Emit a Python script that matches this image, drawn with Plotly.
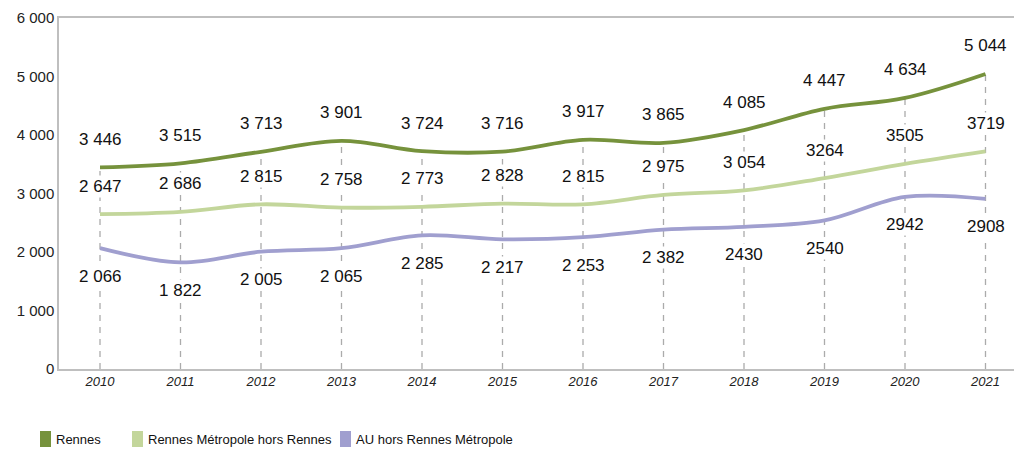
import plotly.graph_objects as go

years = [2010, 2011, 2012, 2013, 2014, 2015, 2016, 2017, 2018, 2019, 2020, 2021]
series_names = ["Rennes", "Rennes Métropole hors Rennes", "AU hors Rennes Métropole"]
rennes = [3446, 3515, 3713, 3901, 3724, 3716, 3917, 3865, 4085, 4447, 4634, 5044]
metropole = [2647, 2686, 2815, 2758, 2773, 2828, 2815, 2975, 3054, 3264, 3505, 3719]
au = [2066, 1822, 2005, 2065, 2285, 2217, 2253, 2382, 2430, 2540, 2942, 2908]
rennes_lbl = ["3 446", "3 515", "3 713", "3 901", "3 724", "3 716", "3 917", "3 865", "4 085", "4 447", "4 634", "5 044"]
metropole_lbl = ["2 647", "2 686", "2 815", "2 758", "2 773", "2 828", "2 815", "2 975", "3 054", "3264", "3505", "3719"]
au_lbl = ["2 066", "1 822", "2 005", "2 065", "2 285", "2 217", "2 253", "2 382", "2430", "2540", "2942", "2908"]
y_ticks = [0, 1000, 2000, 3000, 4000, 5000, 6000]
y_tick_text = ["0", "1 000", "2 000", "3 000", "4 000", "5 000", "6 000"]

colors = ["#76923C", "#C3D69B", "#A09FCF"]
FONT = "Liberation Sans Narrow, Liberation Sans, Arial, sans-serif"

W, H = 1014, 449
ML, MR, MT, MB = 59, 0, 18, 80
PW = W - ML - MR
PH = H - MT - MB

fig = go.Figure()

# dashed vertical drop lines from top series to axis
for x, y in zip(years, rennes):
    fig.add_shape(type="line", x0=x, x1=x, y0=0, y1=y, xref="x", yref="y",
                  line=dict(color="#ABABAB", width=1.3, dash="6px,6px"), layer="below")

all_series = [(rennes, rennes_lbl, 28), (metropole, metropole_lbl, 28), (au, au_lbl, -28)]
for i, (vals, lbls, shift) in enumerate(all_series):
    fig.add_trace(go.Scatter(x=years, y=vals, mode="lines", name=series_names[i],
                             line=dict(color=colors[i], width=3.8, shape="spline", smoothing=1),
                             showlegend=False, hoverinfo="skip"))
    for x, y, t in zip(years, vals, lbls):
        fig.add_annotation(x=x, y=y, xref="x", yref="y", text=t, showarrow=False,
                           yshift=shift, bgcolor="white", borderpad=1,
                           font=dict(family=FONT, size=17, color="#111111"))

# custom legend
leg_x = [40, 132, 340]
for i, name in enumerate(series_names):
    x0 = (leg_x[i] - ML) / PW
    x1 = (leg_x[i] + 11 - ML) / PW
    y0 = (MT + PH - 447) / PH
    y1 = (MT + PH - 431) / PH
    fig.add_shape(type="rect", xref="paper", yref="paper", x0=x0, x1=x1, y0=y0, y1=y1,
                  fillcolor=colors[i], line=dict(width=0))
    fig.add_annotation(xref="paper", yref="paper", x=(leg_x[i] + 14 - ML) / PW,
                       y=(MT + PH - 439) / PH, text=name, showarrow=False,
                       xanchor="left", yanchor="middle",
                       font=dict(family=FONT, size=13, color="#111111"))

x0r = 2010 - (100 - ML) / 80.5
x1r = 2010 + (W - MR - 100) / 80.5
fig.update_layout(
    width=W, height=H,
    margin=dict(l=ML, r=MR, t=MT, b=MB),
    plot_bgcolor="white", paper_bgcolor="white",
    showlegend=False,
    xaxis=dict(range=[x0r, x1r], tickvals=years, ticktext=[str(y) for y in years],
               showgrid=False, zeroline=False, showline=True, linecolor="#BFBFBF", linewidth=1.5,
               mirror=True, ticks="", ticklen=0,
               tickfont=dict(family=FONT, size=13, color="#222222", style="italic")),
    yaxis=dict(range=[0, 6000], tickvals=y_ticks, ticktext=y_tick_text,
               showgrid=False, zeroline=False, showline=True, linecolor="#BFBFBF", linewidth=1.5,
               ticks="", tickfont=dict(family=FONT, size=15, color="#222222")),
)
fig.write_html("out.html", config={"displayModeBar": False},
               post_script="document.body.style.margin='0';document.body.style.overflow='hidden';")
